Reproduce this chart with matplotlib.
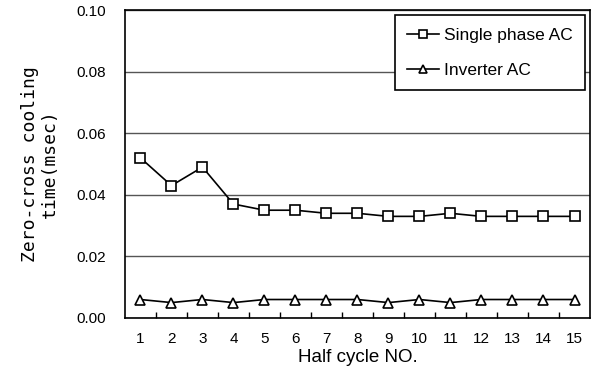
import matplotlib
matplotlib.use("Agg")
import matplotlib.pyplot as plt
import numpy as np

half_cycle = list(range(1, 16))
single_phase = [0.052, 0.043, 0.049, 0.037, 0.035, 0.035, 0.034, 0.034,
                0.033, 0.033, 0.034, 0.033, 0.033, 0.033, 0.033]
inverter = [0.006, 0.005, 0.006, 0.005, 0.006, 0.006, 0.006, 0.006,
            0.005, 0.006, 0.005, 0.006, 0.006, 0.006, 0.006]
y_ticks = [0.00, 0.02, 0.04, 0.06, 0.08, 0.10]

plt.rcParams['font.family'] = ['Liberation Sans', 'DejaVu Sans']

fig = plt.figure(figsize=(5.95, 3.73), dpi=100)
ax = fig.add_axes([0.210, 0.1475, 0.7816, 0.8255])

ax.plot(half_cycle, single_phase, color='black', lw=1.2, marker='s', ms=7.5,
        mfc='white', mec='black', mew=1.2, label='Single phase AC', zorder=3)
ax.plot(half_cycle, inverter, color='black', lw=1.2, marker='^', ms=7.5,
        mfc='white', mec='black', mew=1.2, label='Inverter AC', zorder=3)

ax.set_xlim(0.5, 15.5)
ax.set_ylim(0, 0.10)
ax.set_xticks(half_cycle)
ax.set_xticks(np.arange(1.5, 15.5, 1), minor=True)
ax.set_yticks(y_ticks)
ax.set_yticklabels(['%.2f' % v for v in y_ticks])
ax.tick_params(axis='x', which='major', length=0, pad=10, labelsize=11)
ax.tick_params(axis='x', which='minor', direction='in', length=4, width=1)
ax.tick_params(axis='y', length=0, pad=14, labelsize=11)
ax.grid(axis='y', color='#555555', lw=1)
ax.set_axisbelow(True)
for s in ax.spines.values():
    s.set_linewidth(1.2)

ax.set_xlabel('Half cycle NO.', fontsize=13.5, labelpad=2)
ax.set_ylabel('Zero-cross cooling\ntime(msec)', fontsize=13,
              family='DejaVu Sans Mono', labelpad=12, linespacing=1.15)

leg = ax.legend(loc='upper right', fontsize=12.5, fancybox=False,
                edgecolor='black', framealpha=1, handlelength=1.8,
                handletextpad=0.3, borderaxespad=0.3, borderpad=0.7,
                labelspacing=1.15, markerscale=0.7)
leg.get_frame().set_linewidth(1.2)

fig.savefig('out.png', dpi=100)
